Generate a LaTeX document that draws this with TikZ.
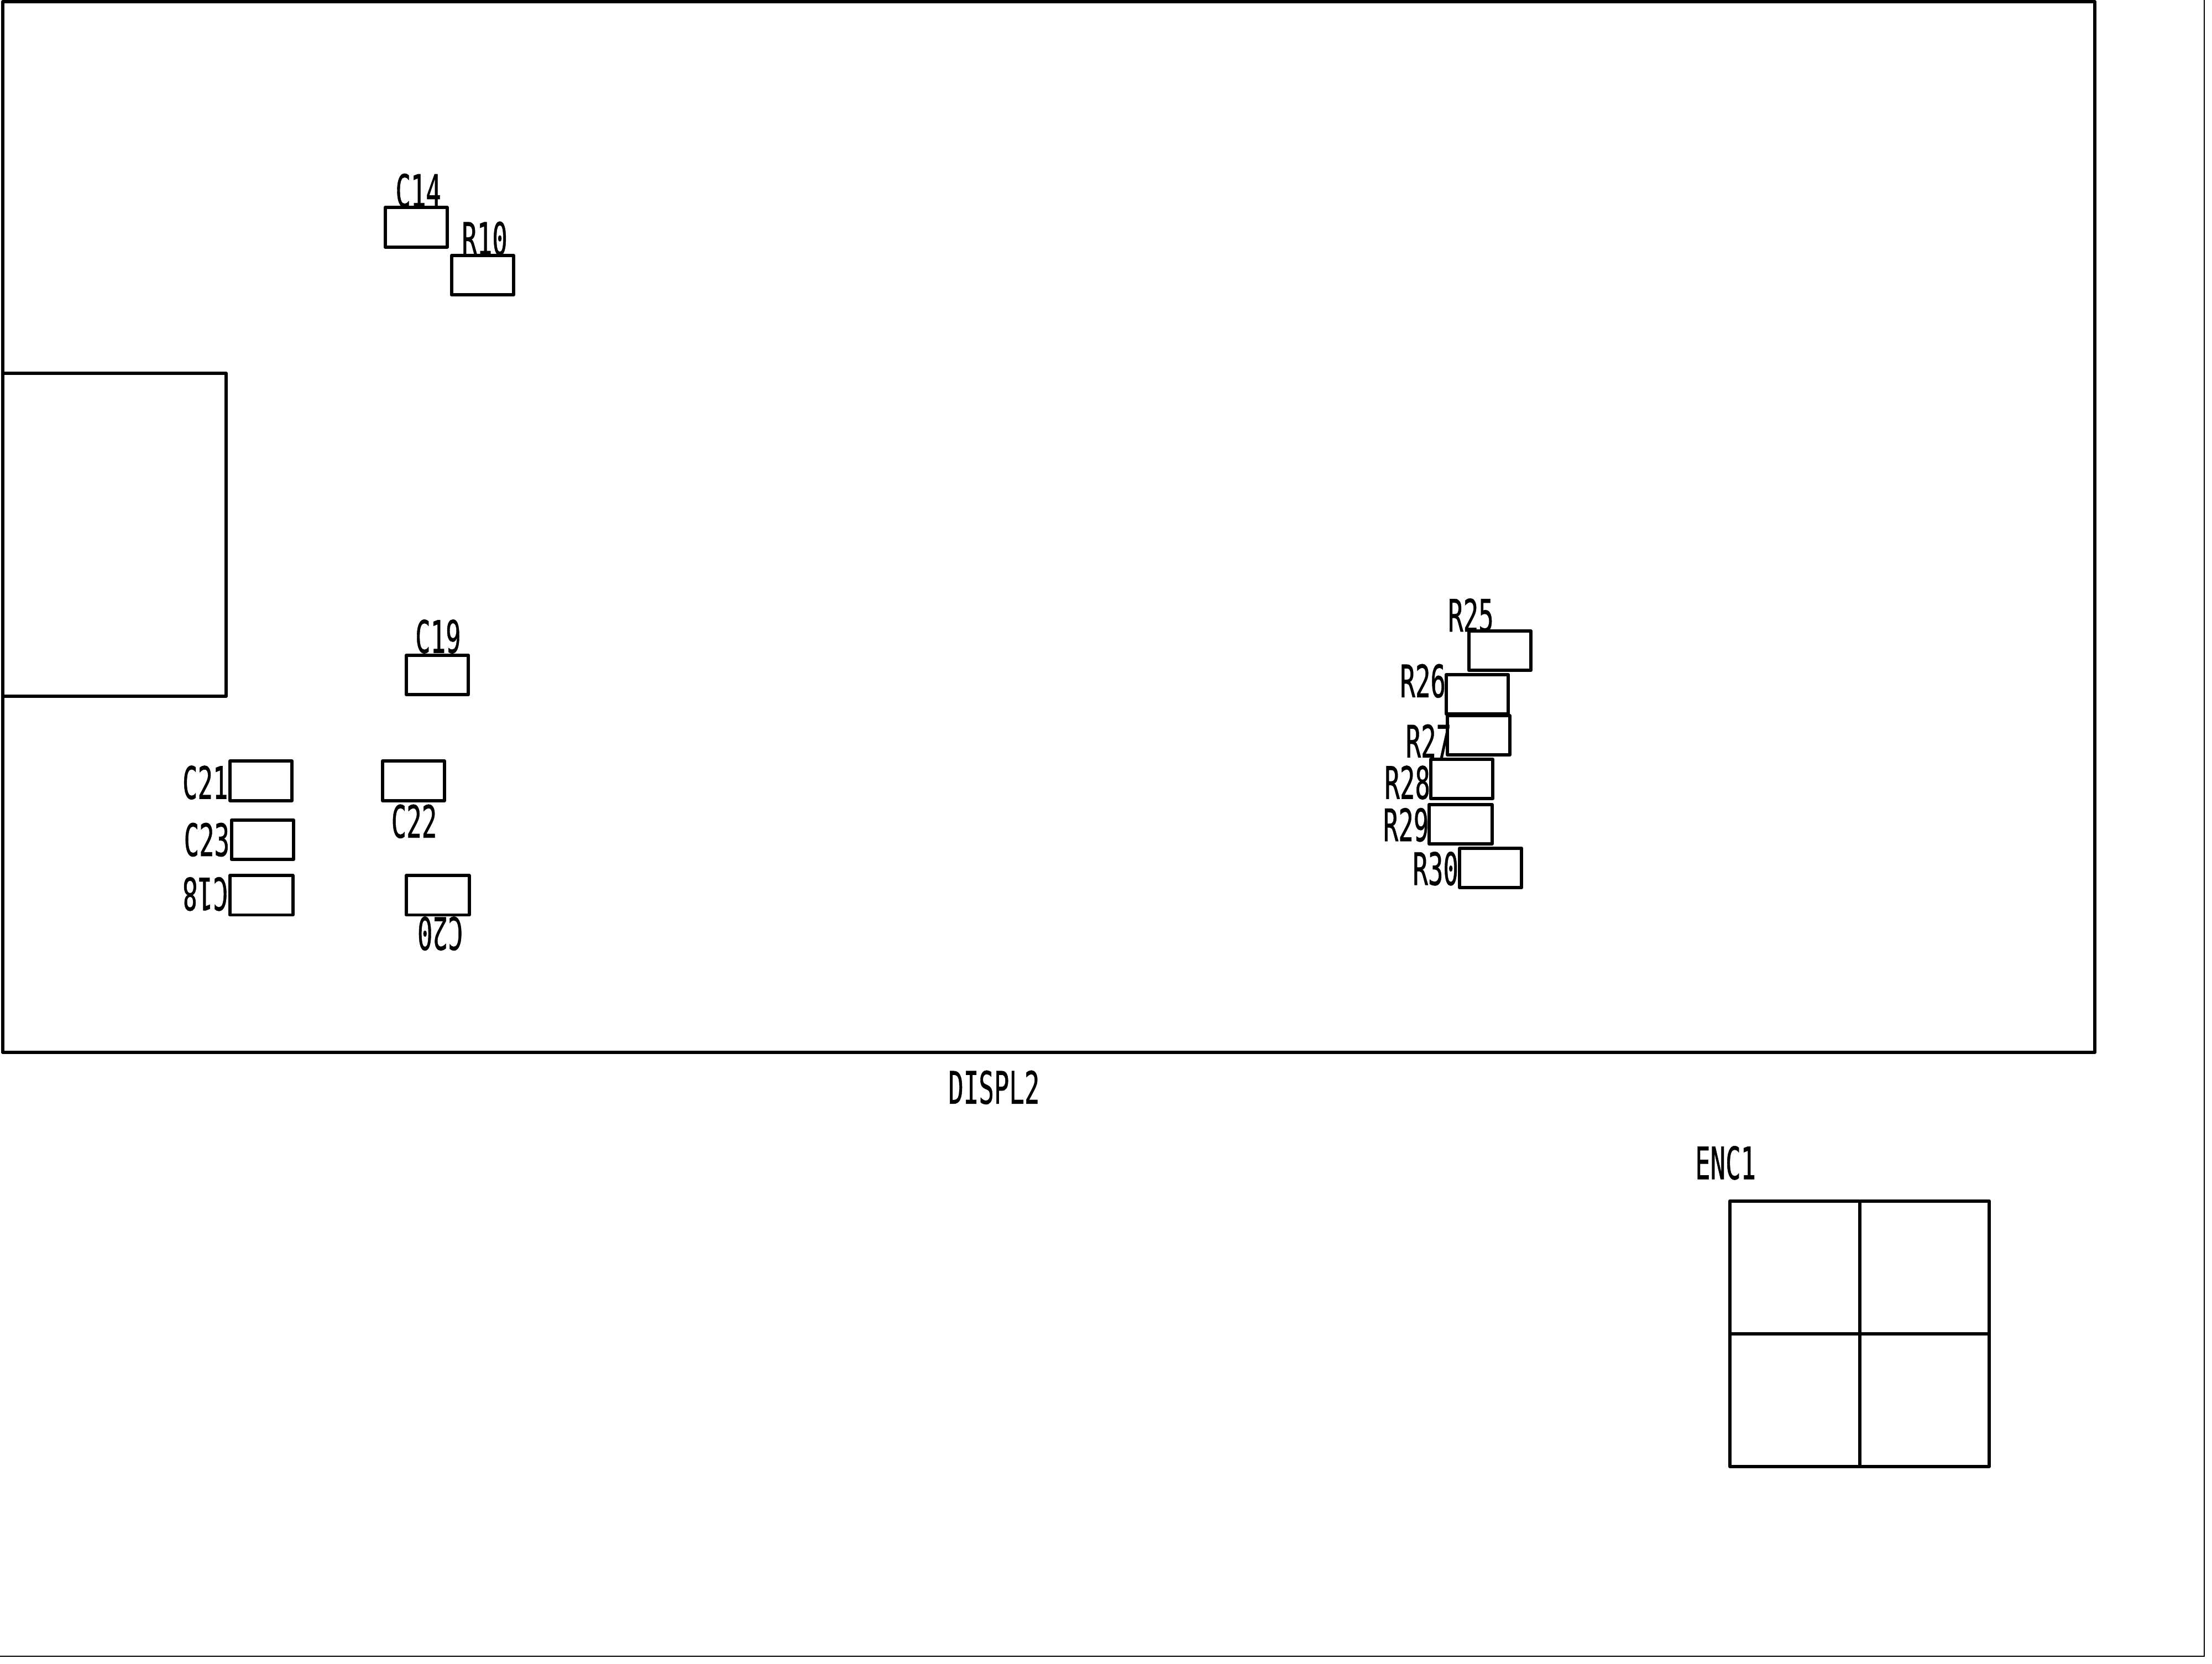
\documentclass[tikz,border=0pt]{standalone}
\usepackage{fontspec}
\newfontfamily\pcbfont[FakeBold=0.9]{DejaVu Sans Mono}
\tikzset{
  part/.style={draw=black,line width=1.7pt,line join=round},
  lbl/.style={font=\pcbfont\fontsize{23}{23}\selectfont,text=black,inner sep=0pt,outer sep=0pt,xscale=0.565},
}
\begin{document}
\begin{tikzpicture}[x=0.02552cm,y=-0.02552cm]
\useasboundingbox (0,0) rectangle (1567.8,1179.07);
% page frame
\draw[black,line width=0.6pt] (0,1173.6) -- (1562.3,1173.6) -- (1562.3,0);
\draw[part] (1.96,1.18) rectangle (1484.7,745.7);
\draw[part] (1.96,264.5) -- (160.3,264.5) -- (160.3,493.3) -- (1.96,493.3);
% encoder
\draw[part] (1226,851) rectangle (1410,1039);
\draw[part] (1318,851) -- (1318,1039);
\draw[part] (1226,945) -- (1410,945);
% parts
\draw[part] (273,147) rectangle (317,175);
\draw[part] (320,181) rectangle (364,209);
\draw[part] (288,464.3) rectangle (332,492.3);
\draw[part] (163,539.3) rectangle (207,567.3);
\draw[part] (271,539.3) rectangle (315,567.3);
\draw[part] (164,581) rectangle (208,609);
\draw[part] (163,620.3) rectangle (207.5,648.3);
\draw[part] (288,620.3) rectangle (332.5,648.3);
\draw[part] (1041,447) rectangle (1085,475);
\draw[part] (1025,478) rectangle (1069,506);
\draw[part] (1026,507) rectangle (1070,535);
\draw[part] (1014,538) rectangle (1058,566);
\draw[part] (1013,570) rectangle (1057.5,598);
\draw[part] (1034.5,601) rectangle (1078.5,629);
% labels
\node[lbl] (c14) at (296.5,135) {C14};
\node[lbl] (r10) at (343.5,169) {R10};
\node[lbl] (c19) at (310.5,451) {C19};
\node[lbl] (c21) at (145.5,554.5) {C21};
\node[lbl] (c22) at (293.5,582) {C22};
\node[lbl] (c23) at (146.5,595) {C23};
\node[lbl,rotate=180] (c18) at (145.5,633.5) {C18};
\node[lbl,rotate=180] (c20) at (312,661.5) {C20};
\node[lbl] (r25) at (1042.5,436) {R25};
\node[lbl] (r26) at (1008.5,482.5) {R26};
\node[lbl] (r27) at (1012.5,525) {R27};
\node[lbl] (r28) at (997.5,554.5) {R28};
\node[lbl] (r29) at (996.5,584.5) {R29};
\node[lbl] (r30) at (1017.5,615.5) {R30};
\node[lbl] (displ2) at (704.5,770.5) {DISPL2};
\node[lbl] (enc1) at (1223,824) {ENC1};
\end{tikzpicture}
\end{document}
